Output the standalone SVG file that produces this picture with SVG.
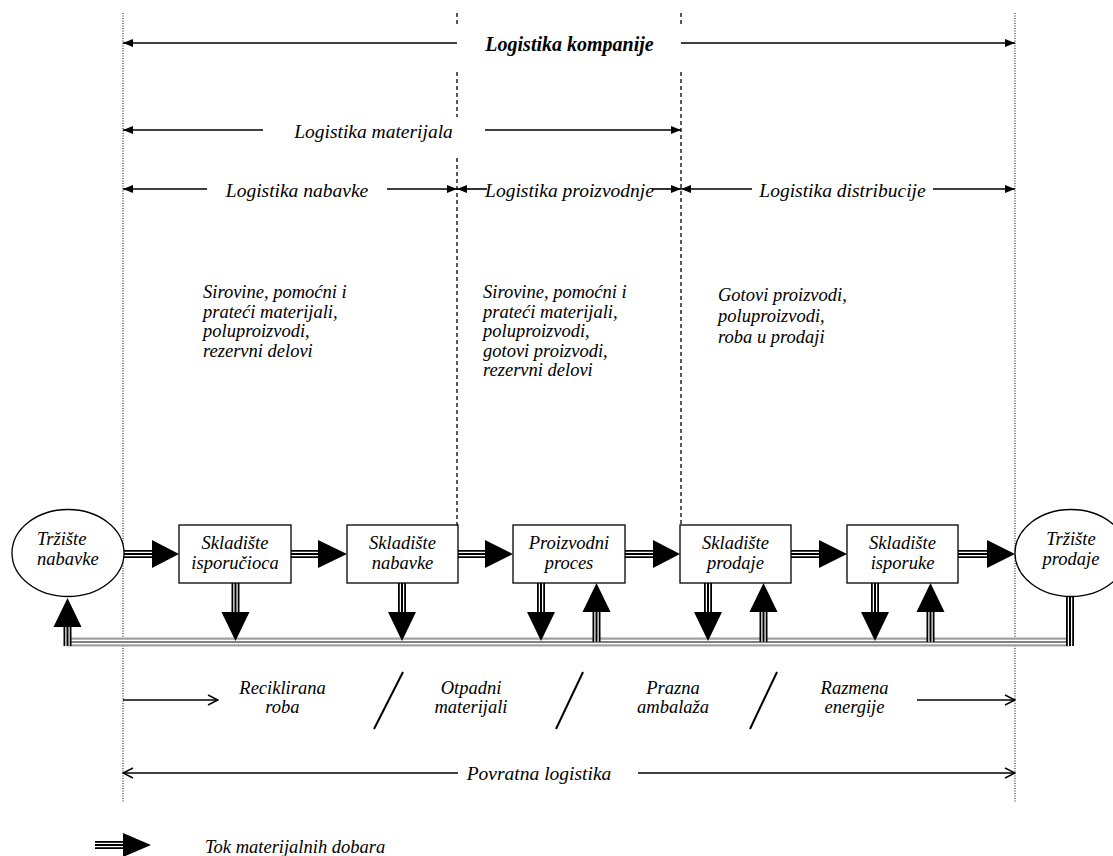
<svg xmlns="http://www.w3.org/2000/svg" width="1113" height="856" viewBox="0 0 1113 856">
<style>
.t{font-family:"Liberation Serif","DejaVu Serif",serif;font-style:italic;font-size:18.5px;fill:#000}
.h{font-size:19.5px}
.b{font-weight:bold;font-size:20px}
.m{text-anchor:middle}
.dot{stroke:#000;stroke-width:1;stroke-dasharray:1 1.5;fill:none}
.dash{stroke:#000;stroke-width:1.3;stroke-dasharray:4 3;fill:none}
.dim{stroke:#000;stroke-width:1.6;fill:none}
.thin{stroke:#000;stroke-width:1.3;fill:none}
.sl{stroke:#000;stroke-width:2;fill:none}
.box{fill:#fff;stroke:#000;stroke-width:1.3}
.s1{stroke:#000;stroke-width:8;fill:none}
.s2{stroke:#fff;stroke-width:4.4;fill:none}
.s3{stroke:#000;stroke-width:2;fill:none}
.g1{stroke:#a0a0a0;stroke-width:9;fill:none}
.g2{stroke:#fff;stroke-width:4.6;fill:none}
.g3{stroke:#808080;stroke-width:2.2;fill:none}
.tri{fill:#000}
</style>
<defs>
<marker id="fa" viewBox="0 0 10 8" refX="10" refY="4" markerWidth="10" markerHeight="8" markerUnits="userSpaceOnUse" orient="auto-start-reverse">
<path d="M0,0 L10,4 L0,8 z" fill="#000"/>
</marker>
<marker id="oa" viewBox="0 0 12 12" refX="11" refY="6" markerWidth="12" markerHeight="12" markerUnits="userSpaceOnUse" orient="auto-start-reverse">
<path d="M1,1 L11,6 L1,11" fill="none" stroke="#000" stroke-width="1.4"/>
</marker>
</defs>

<g id="guides">
<line class="dot" x1="123" y1="13" x2="123" y2="802"/>
<line class="dot" x1="1015" y1="13" x2="1015" y2="802"/>
<path class="dash" d="M457,13 V25 M457,72 V117 M457,158 V525"/>
<path class="dash" d="M681,13 V25 M681,72 V525"/>
</g>

<g id="scopes">
<line class="dim" x1="457" y1="43" x2="123" y2="43" marker-end="url(#fa)"/>
<line class="dim" x1="681" y1="43" x2="1015" y2="43" marker-end="url(#fa)"/>
<text class="t b m" x="569.5" y="51">Logistika kompanije</text>
<line class="dim" x1="263" y1="130" x2="123" y2="130" marker-end="url(#fa)"/>
<line class="dim" x1="485" y1="130" x2="681" y2="130" marker-end="url(#fa)"/>
<text class="t h m" x="373.5" y="138">Logistika materijala</text>
<line class="dim" x1="207" y1="189" x2="123" y2="189" marker-end="url(#fa)"/>
<line class="dim" x1="387" y1="189" x2="457" y2="189" marker-end="url(#fa)"/>
<text class="t h m" x="297" y="197">Logistika nabavke</text>
<line class="dim" x1="487" y1="189" x2="457" y2="189" marker-end="url(#fa)"/>
<line class="dim" x1="652" y1="189" x2="681" y2="189" marker-end="url(#fa)"/>
<text class="t h m" x="569.5" y="197">Logistika proizvodnje</text>
<line class="dim" x1="752" y1="189" x2="681" y2="189" marker-end="url(#fa)"/>
<line class="dim" x1="933" y1="189" x2="1015" y2="189" marker-end="url(#fa)"/>
<text class="t h m" x="842.5" y="197">Logistika distribucije</text>
</g>

<g id="materials">
<text class="t" x="203" y="298">Sirovine, pomoćni i</text>
<text class="t" x="203" y="317.5">prateći materijali,</text>
<text class="t" x="203" y="337">poluproizvodi,</text>
<text class="t" x="203" y="356.5">rezervni delovi</text>
<text class="t" x="483" y="298">Sirovine, pomoćni i</text>
<text class="t" x="483" y="317.5">prateći materijali,</text>
<text class="t" x="483" y="337">poluproizvodi,</text>
<text class="t" x="483" y="356.5">gotovi proizvodi,</text>
<text class="t" x="483" y="376">rezervni delovi</text>
<text class="t" x="718" y="301">Gotovi proizvodi,</text>
<text class="t" x="718" y="322">poluproizvodi,</text>
<text class="t" x="718" y="343">roba u prodaji</text>
</g>

<g id="connectors">
<path class="g1" d="M68,642 H1070"/>
<path class="g2" d="M68,642 H1070"/>
<path class="g3" d="M68,642 H1070"/>
<path class="s1" d="M124,554 H153 M291,554 H319 M458,554 H486 M625,554 H654 M791,554 H820 M958,554 H988"/>
<path class="s2" d="M124,554 H153 M291,554 H319 M458,554 H486 M625,554 H654 M791,554 H820 M958,554 H988"/>
<path class="s3" d="M124,554 H153 M291,554 H319 M458,554 H486 M625,554 H654 M791,554 H820 M958,554 H988"/>
<path class="tri" d="M152,540 L179,554 L152,568 Z M318,540 L347,554 L318,568 Z M485,540 L513,554 L485,568 Z M653,540 L680,554 L653,568 Z M819,540 L847,554 L819,568 Z M987,540 L1015,554 L987,568 Z"/>
<path class="s1" d="M235.5,583 V613 M402,583 V613 M541,583 V613 M708,583 V613 M875,583 V613 M596.5,642 V611 M763.5,642 V611 M930.5,642 V611 M67.5,646 V626 M1070,597 V646"/>
<path class="s2" d="M235.5,583 V613 M402,583 V613 M541,583 V613 M708,583 V613 M875,583 V613 M596.5,642 V611 M763.5,642 V611 M930.5,642 V611 M67.5,646 V626 M1070,597 V646"/>
<path class="s3" d="M235.5,583 V613 M402,583 V613 M541,583 V613 M708,583 V613 M875,583 V613 M596.5,642 V611 M763.5,642 V611 M930.5,642 V611 M67.5,646 V626 M1070,597 V646"/>
<path class="tri" d="M221.5,612 L249.5,612 L235.5,641 Z M388,612 L416,612 L402,641 Z M527,612 L555,612 L541,641 Z M694,612 L722,612 L708,641 Z M861,612 L889,612 L875,641 Z M582.5,612 L610.5,612 L596.5,583 Z M749.5,612 L777.5,612 L763.5,583 Z M916.5,612 L944.5,612 L930.5,583 Z M53.5,627 L81.5,627 L67.5,598 Z"/>
</g>

<g id="trziste-nabavke">
<ellipse class="box" cx="68" cy="553" rx="56" ry="43.5"/>
<text class="t" x="37" y="545">Tržište</text>
<text class="t" x="37" y="565">nabavke</text>
</g>
<g id="skladiste-isporucioca">
<rect class="box" x="179" y="525" width="112" height="58"/>
<text class="t m" x="235" y="549">Skladište</text>
<text class="t m" x="235" y="569">isporučioca</text>
</g>
<g id="skladiste-nabavke">
<rect class="box" x="347" y="525" width="111" height="58"/>
<text class="t m" x="402.5" y="549">Skladište</text>
<text class="t m" x="402.5" y="569">nabavke</text>
</g>
<g id="proizvodni-proces">
<rect class="box" x="513" y="525" width="112" height="58"/>
<text class="t m" x="569" y="549">Proizvodni</text>
<text class="t m" x="569" y="569">proces</text>
</g>
<g id="skladiste-prodaje">
<rect class="box" x="680" y="525" width="111" height="58"/>
<text class="t m" x="735.5" y="549">Skladište</text>
<text class="t m" x="735.5" y="569">prodaje</text>
</g>
<g id="skladiste-isporuke">
<rect class="box" x="847" y="525" width="111" height="58"/>
<text class="t m" x="902.5" y="549">Skladište</text>
<text class="t m" x="902.5" y="569">isporuke</text>
</g>
<g id="trziste-prodaje">
<ellipse class="box" cx="1071" cy="553" rx="56" ry="43.5"/>
<text class="t m" x="1071" y="545">Tržište</text>
<text class="t m" x="1071" y="565">prodaje</text>
</g>

<g id="povratna">
<line class="thin" x1="123" y1="700" x2="218" y2="700" marker-end="url(#oa)"/>
<line class="thin" x1="917" y1="700" x2="1015" y2="700" marker-end="url(#oa)"/>
<text class="t m" x="282.5" y="694">Reciklirana</text>
<text class="t m" x="282.5" y="713">roba</text>
<line class="sl" x1="403" y1="672" x2="374" y2="729"/>
<text class="t m" x="471" y="694">Otpadni</text>
<text class="t m" x="471" y="713">materijali</text>
<line class="sl" x1="583" y1="672" x2="556" y2="729"/>
<text class="t m" x="673" y="694">Prazna</text>
<text class="t m" x="673" y="713">ambalaža</text>
<line class="sl" x1="777" y1="672" x2="750" y2="729"/>
<text class="t m" x="854.5" y="694">Razmena</text>
<text class="t m" x="854.5" y="713">energije</text>
<line class="thin" x1="458" y1="773" x2="123" y2="773" marker-end="url(#oa)"/>
<line class="thin" x1="638" y1="773" x2="1015" y2="773" marker-end="url(#oa)"/>
<text class="t h m" x="539" y="780">Povratna logistika</text>
</g>

<g id="legend">
<path class="s1" d="M95,845 H124"/>
<path class="s2" d="M95,845 H124"/>
<path class="s3" d="M95,845 H124"/>
<path class="tri" d="M123,833 L151,845 L123,857 Z"/>
<text class="t" x="205" y="853">Tok materijalnih dobara</text>
</g>
</svg>
